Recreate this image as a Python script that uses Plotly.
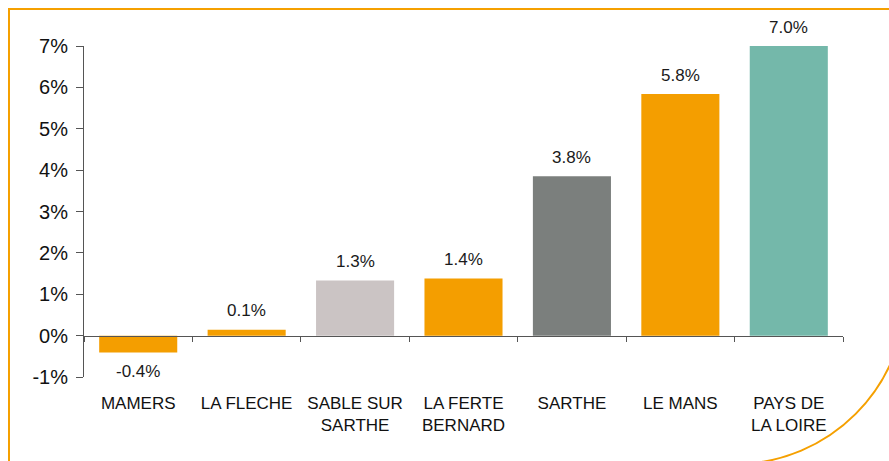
import plotly.graph_objects as go

categories = ["MAMERS", "LA FLECHE", "SABLE SUR<br>SARTHE", "LA FERTE<br>BERNARD",
              "SARTHE", "LE MANS", "PAYS DE<br>LA LOIRE"]
values = [-0.41, 0.14, 1.33, 1.38, 3.85, 5.84, 7.0]
labels = ["-0.4%", "0.1%", "1.3%", "1.4%", "3.8%", "5.8%", "7.0%"]
colors = ["#F49E00", "#F49E00", "#CBC4C4", "#F49E00", "#7B7F7D", "#F49E00", "#74B8AA"]
y_ticks = [-1, 0, 1, 2, 3, 4, 5, 6, 7]
y_tick_text = ["-1%", "0%", "1%", "2%", "3%", "4%", "5%", "6%", "7%"]

W, H = 889, 461
L, R, T, B = 84, 46, 46, 84
pw, ph = W - L - R, H - T - B

def px(x, y):
    return (x - L) / pw, (H - B - y) / ph

fig = go.Figure()
fig.add_trace(go.Bar(x=categories, y=values, marker_color=colors, marker_line_width=0,
                     width=0.72, hoverinfo="skip"))

for c, v, t in zip(categories, values, labels):
    fig.add_annotation(x=c, y=v, text=t, showarrow=False, xref="x", yref="y",
                       yshift=19 if v >= 0 else -19, yanchor="middle",
                       font=dict(size=17, color="#1a1a1a"))

# frame with rounded bottom-right corner
r = 171.4
cx, cy = 734.5, 292.7
k = 0.5523 * r
pts = [
    ("M", [(9, 470)]),
    ("L", [(9, 9)]),
    ("L", [(cx + r, 9)]),
    ("L", [(cx + r, cy)]),
    ("C", [(cx + r, cy + k), (cx + k, cy + r), (cx, cy + r)]),
    ("L", [(9, cy + r)]),
]
path = ""
for cmd, ps in pts:
    path += cmd + " " + " ".join("%.5f,%.5f" % px(x, y) for x, y in ps) + " "
fig.add_shape(type="path", path=path, xref="paper", yref="paper",
              line=dict(color="#F5A000", width=2))

fig.update_layout(
    width=W, height=H,
    margin=dict(l=L, r=R, t=T, b=B),
    plot_bgcolor="white", paper_bgcolor="white",
    showlegend=False,
    font=dict(family="Liberation Sans, Arial, sans-serif", color="#111111"),
    xaxis=dict(
        anchor="free", position=0.125,
        showline=True, linecolor="#555555", linewidth=1,
        ticks="outside", tickson="boundaries", ticklen=5, tickcolor="#555555",
        tickfont=dict(size=17), ticklabelstandoff=52,
        showgrid=False, zeroline=False,
    ),
    yaxis=dict(
        range=[-1, 7], tickmode="array", tickvals=y_ticks, ticktext=y_tick_text,
        showline=True, linecolor="#555555", linewidth=1,
        ticks="outside", ticklen=7, tickcolor="#555555",
        tickfont=dict(size=20), ticklabelstandoff=4,
        showgrid=False, zeroline=False,
    ),
)

fig.write_html("out.html")
